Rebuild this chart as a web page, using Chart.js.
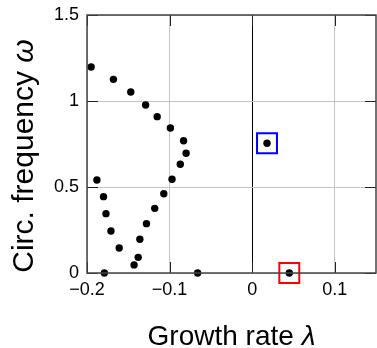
<!DOCTYPE html>
<html>
<head>
<meta charset="utf-8">
<script src="https://cdn.jsdelivr.net/npm/chart.js@4.4.0/dist/chart.umd.min.js"></script>
<style>
  html, body { margin: 0; padding: 0; background: #fff; }
  #wrap { width: 377px; height: 348px; }
</style>
</head>
<body>
<div id="wrap"><canvas id="myChart" width="377" height="348"></canvas></div>
<script>
// eigenvalues: growth rate (lambda) and circular frequency (omega)
var lambdaVals = [-0.195, -0.168, -0.147, -0.129, -0.115, -0.099, -0.083, -0.080, -0.087,
                  -0.097, -0.107, -0.118, -0.128, -0.136, -0.138, -0.143,
                  -0.188, -0.180, -0.177, -0.171, -0.161,
                  -0.179, -0.066, 0.018, 0.045];
var omegaVals  = [1.198, 1.126, 1.052, 0.977, 0.909, 0.843, 0.769, 0.696, 0.632,
                  0.545, 0.461, 0.376, 0.287, 0.196, 0.091, 0.047,
                  0.541, 0.444, 0.345, 0.244, 0.145,
                  0, 0, 0.754, 0];
var blueIdx = [23];
var redIdx = [24];

var xTicks = [-0.2, -0.1, 0, 0.1];
var yTicks = [0, 0.5, 1, 1.5];

function points(idx) {
    var out = [];
    for (var i = 0; i < idx.length; i++) {
        out.push({x: lambdaVals[idx[i]], y: omegaVals[idx[i]]});
    }
    return out;
}

var allIdx = [];
for (var i = 0; i < lambdaVals.length; i++) allIdx.push(i);

function fmt(v) {
    var s = String(Math.abs(v));
    return v < 0 ? '\u2212' + s : s;
}

var FONT = '"Liberation Sans", Arial, sans-serif';

// frame, inward ticks and the axis titles
var decor = {
    id: 'decor',
    afterDraw: function (chart) {
        var ctx = chart.ctx;
        var a = chart.chartArea;
        var xs = chart.scales.x, ys = chart.scales.y;
        ctx.save();
        ctx.strokeStyle = '#222';
        ctx.lineWidth = 1;
        ctx.beginPath();
        for (var i = 0; i < xTicks.length; i++) {
            var px = Math.round(xs.getPixelForValue(xTicks[i])) + 0.5;
            ctx.moveTo(px, a.bottom); ctx.lineTo(px, a.bottom - 11);
            ctx.moveTo(px, a.top); ctx.lineTo(px, a.top + 11);
        }
        for (var j = 0; j < yTicks.length; j++) {
            var py = Math.round(ys.getPixelForValue(yTicks[j])) + 0.5;
            ctx.moveTo(a.left, py); ctx.lineTo(a.left + 11, py);
            ctx.moveTo(a.right, py); ctx.lineTo(a.right - 11, py);
        }
        ctx.stroke();

        ctx.strokeStyle = '#444';
        ctx.lineWidth = 1.5;
        ctx.strokeRect(a.left, a.top, a.right - a.left, a.bottom - a.top);

        ctx.fillStyle = '#000';
        ctx.textBaseline = 'alphabetic';
        ctx.textAlign = 'left';

        // x title
        var t1 = 'Growth rate ', t2 = '\u03bb';
        ctx.font = '28px ' + FONT;
        var w1 = ctx.measureText(t1).width;
        ctx.font = 'italic 28px ' + FONT;
        var w2 = ctx.measureText(t2).width;
        var x0 = (a.left + a.right) / 2 - (w1 + w2) / 2;
        ctx.font = '28px ' + FONT;
        ctx.fillText(t1, x0, a.bottom + 72);
        ctx.font = 'italic 28px ' + FONT;
        ctx.fillText(t2, x0 + w1, a.bottom + 72);

        // y title
        var s1 = 'Circ. frequency ', s2 = '\u03c9';
        ctx.font = '30px ' + FONT;
        var v1 = ctx.measureText(s1).width;
        ctx.font = 'italic 30px ' + FONT;
        var v2 = ctx.measureText(s2).width;
        ctx.translate(33, (a.top + a.bottom) / 2 + 12);
        ctx.rotate(-Math.PI / 2);
        var y0 = -(v1 + v2) / 2;
        ctx.font = '30px ' + FONT;
        ctx.fillText(s1, y0, 0);
        ctx.font = 'italic 30px ' + FONT;
        ctx.fillText(s2, y0 + v1, 0);
        ctx.restore();
    }
};

var ctx = document.getElementById('myChart').getContext('2d');
var chart = new Chart(ctx, {
    type: 'scatter',
    data: {
        datasets: [{
            label: 'blue',
            data: points(blueIdx),
            pointStyle: 'rect',
            pointRadius: 14.1,
            borderColor: '#0000ff',
            backgroundColor: 'rgba(0,0,0,0)',
            borderWidth: 2,
            clip: false
        }, {
            label: 'red',
            data: points(redIdx),
            pointStyle: 'rect',
            pointRadius: 14.1,
            borderColor: '#ff0000',
            backgroundColor: 'rgba(0,0,0,0)',
            borderWidth: 2,
            clip: false
        }, {
            label: 'eigenvalues',
            data: points(allIdx),
            pointRadius: 3.7,
            borderWidth: 0,
            backgroundColor: '#000',
            clip: false
        }]
    },
    options: {
        responsive: false,
        animation: false,
        events: [],
        layout: { autoPadding: false, padding: { top: 15, right: 1, left: 0, bottom: 0 } },
        plugins: { legend: { display: false }, tooltip: { enabled: false } },
        scales: {
            x: {
                type: 'linear',
                min: -0.2,
                max: 0.15,
                afterBuildTicks: function (scale) {
                    scale.ticks = xTicks.map(function (v) { return {value: v}; });
                },
                afterFit: function (scale) {
                    scale.height = 75;
                    scale.paddingLeft = 0;
                    scale.paddingRight = 0;
                },
                border: { display: false },
                grid: {
                    drawTicks: false,
                    color: function (c) { return c.tick && c.tick.value === 0 ? '#000' : '#c4c4c4'; },
                    lineWidth: 1
                },
                ticks: {
                    padding: 6,
                    color: '#000',
                    font: { family: FONT, size: 18 },
                    callback: function (v) { return fmt(v); }
                }
            },
            y: {
                type: 'linear',
                min: 0,
                max: 1.5,
                afterBuildTicks: function (scale) {
                    scale.ticks = yTicks.map(function (v) { return {value: v}; });
                },
                afterFit: function (scale) {
                    scale.width = 87;
                    scale.paddingTop = 0;
                    scale.paddingBottom = 0;
                },
                border: { display: false },
                grid: {
                    drawTicks: false,
                    color: '#c4c4c4',
                    lineWidth: 1
                },
                ticks: {
                    padding: 8,
                    color: '#000',
                    font: { family: FONT, size: 18 },
                    callback: function (v) { return fmt(v); }
                }
            }
        }
    },
    plugins: [decor]
});
</script>
</body>
</html>
